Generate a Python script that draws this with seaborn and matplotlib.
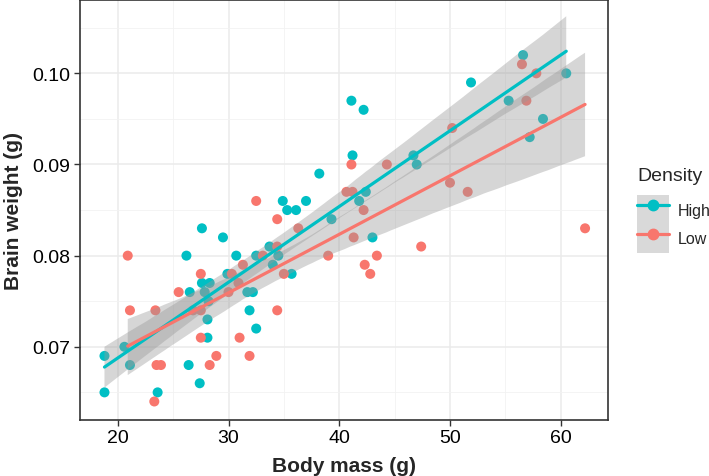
import pandas as pd
import matplotlib
matplotlib.use("Agg")
import matplotlib.pyplot as plt
import seaborn as sns
from matplotlib.lines import Line2D
from matplotlib.patches import Patch
from matplotlib.legend_handler import HandlerTuple
from matplotlib.ticker import MultipleLocator

# --- data ---
high_mass = [18.8, 18.8, 20.6, 21.1, 23.6, 26.2, 26.5, 26.4, 27.4, 27.6,
             27.6, 27.85, 28.3, 28.2, 28.1, 28.1, 29.5, 29.9, 30.7, 31.7,
             32.2, 31.9, 32.5, 32.5, 33.7, 34.0, 34.5, 34.9, 35.3, 36.1,
             35.7, 37.0, 38.2, 39.3, 41.1, 42.2, 41.2, 42.4, 41.8, 43.0,
             46.7, 47.0, 51.9, 55.3, 56.6, 57.2, 58.4, 60.5]
high_brain = [0.069, 0.065, 0.070, 0.068, 0.065, 0.080, 0.076, 0.068, 0.066, 0.083,
              0.077, 0.076, 0.077, 0.075, 0.073, 0.071, 0.082, 0.078, 0.080, 0.076,
              0.076, 0.074, 0.072, 0.080, 0.081, 0.079, 0.080, 0.086, 0.085, 0.085,
              0.078, 0.086, 0.089, 0.084, 0.097, 0.096, 0.091, 0.087, 0.086, 0.082,
              0.091, 0.090, 0.099, 0.097, 0.102, 0.093, 0.095, 0.100]

low_mass = [20.9, 21.1, 23.4, 23.3, 23.5, 23.9, 25.5, 26.8, 27.5, 27.5,
            27.5, 28.3, 28.9, 30.0, 30.3, 30.9, 31.3, 31.0, 31.9, 32.5,
            33.1, 34.4, 34.4, 34.4, 35.0, 36.3, 39.0, 40.65, 41.2, 41.1,
            41.3, 42.2, 42.3, 42.8, 43.4, 44.3, 47.4, 50.0, 50.2, 51.6,
            56.5, 56.9, 57.8, 62.2]
low_brain = [0.080, 0.074, 0.074, 0.064, 0.068, 0.068, 0.076, 0.074, 0.074, 0.078,
             0.071, 0.068, 0.069, 0.076, 0.078, 0.077, 0.079, 0.071, 0.069, 0.086,
             0.080, 0.081, 0.084, 0.074, 0.078, 0.083, 0.080, 0.087, 0.087, 0.090,
             0.082, 0.085, 0.079, 0.078, 0.080, 0.090, 0.081, 0.088, 0.094, 0.087,
             0.101, 0.097, 0.100, 0.083]

groups = ["High", "Low"]
colors = {"High": "#00BFC4", "Low": "#F8766D"}

df = pd.concat([
    pd.DataFrame({"mass": high_mass, "brain": high_brain, "Density": "High"}),
    pd.DataFrame({"mass": low_mass, "brain": low_brain, "Density": "Low"}),
], ignore_index=True)

sns.set_style("white")
plt.rcParams["font.family"] = ["Liberation Sans", "DejaVu Sans"]

fig = plt.figure(figsize=(7.09, 4.77), dpi=100)
ax = fig.add_axes([0.113, 0.118, 0.745, 0.879])

# grid like theme_bw
ax.xaxis.set_major_locator(MultipleLocator(10))
ax.xaxis.set_minor_locator(MultipleLocator(5))
ax.yaxis.set_major_locator(MultipleLocator(0.01))
ax.yaxis.set_minor_locator(MultipleLocator(0.005))
ax.grid(which="major", color="#EBEBEB", lw=1.1, zorder=0)
ax.grid(which="minor", color="#F2F2F2", lw=0.6, zorder=0)
ax.set_axisbelow(True)

# points
sns.scatterplot(data=df, x="mass", y="brain", hue="Density", hue_order=groups,
                palette=colors, s=52, edgecolor="none", linewidth=0,
                legend=False, ax=ax, zorder=2)

# regression lines + CI band
for g in groups:
    sub = df[df["Density"] == g]
    n_before = len(ax.collections)
    sns.regplot(data=sub, x="mass", y="brain", scatter=False, ci=95,
                n_boot=2000, seed=1, color=colors[g],
                line_kws={"lw": 2.3, "zorder": 4}, ax=ax)
    for coll in ax.collections[n_before:]:
        coll.set_facecolor("#999999")
        coll.set_alpha(0.4)
        coll.set_edgecolor("none")
        coll.set_zorder(3)

ax.set_xlim(16.6, 64.3)
ax.set_ylim(0.062, 0.108)
ax.set_yticks([0.07, 0.08, 0.09, 0.10])
ax.set_yticklabels(["0.07", "0.08", "0.09", "0.10"])

ax.set_xlabel("Body mass (g)", fontsize=15, fontweight="bold", labelpad=7)
ax.set_ylabel("Brain weight (g)", fontsize=15, fontweight="bold", labelpad=7)
ax.tick_params(axis="both", which="major", labelsize=14, colors="#333333",
               labelcolor="black", length=4, width=1, direction="out",
               bottom=True, left=True, pad=3)
ax.tick_params(which="minor", length=0)
for sp in ax.spines.values():
    sp.set_color("#333333")
    sp.set_linewidth(1.2)

# legend with grey key background
handles = [(Patch(facecolor="#D9D9D9", edgecolor="none"),
            Line2D([], [], color=colors[g], lw=2.3, marker="o", ms=7.5))
           for g in groups]
leg = ax.legend(handles, groups, title="Density", loc="center left",
                bbox_to_anchor=(1.055, 0.5), frameon=False, fontsize=11.5,
                title_fontsize=14, handler_map={tuple: HandlerTuple(ndivide=1, pad=0)},
                handlelength=2.0, handleheight=2.4, labelspacing=0.0,
                handletextpad=0.5, borderpad=0.0, borderaxespad=0.0)
leg._legend_box.align = "left"
leg._legend_box.sep = 8

fig.savefig("out.png", dpi=100)
